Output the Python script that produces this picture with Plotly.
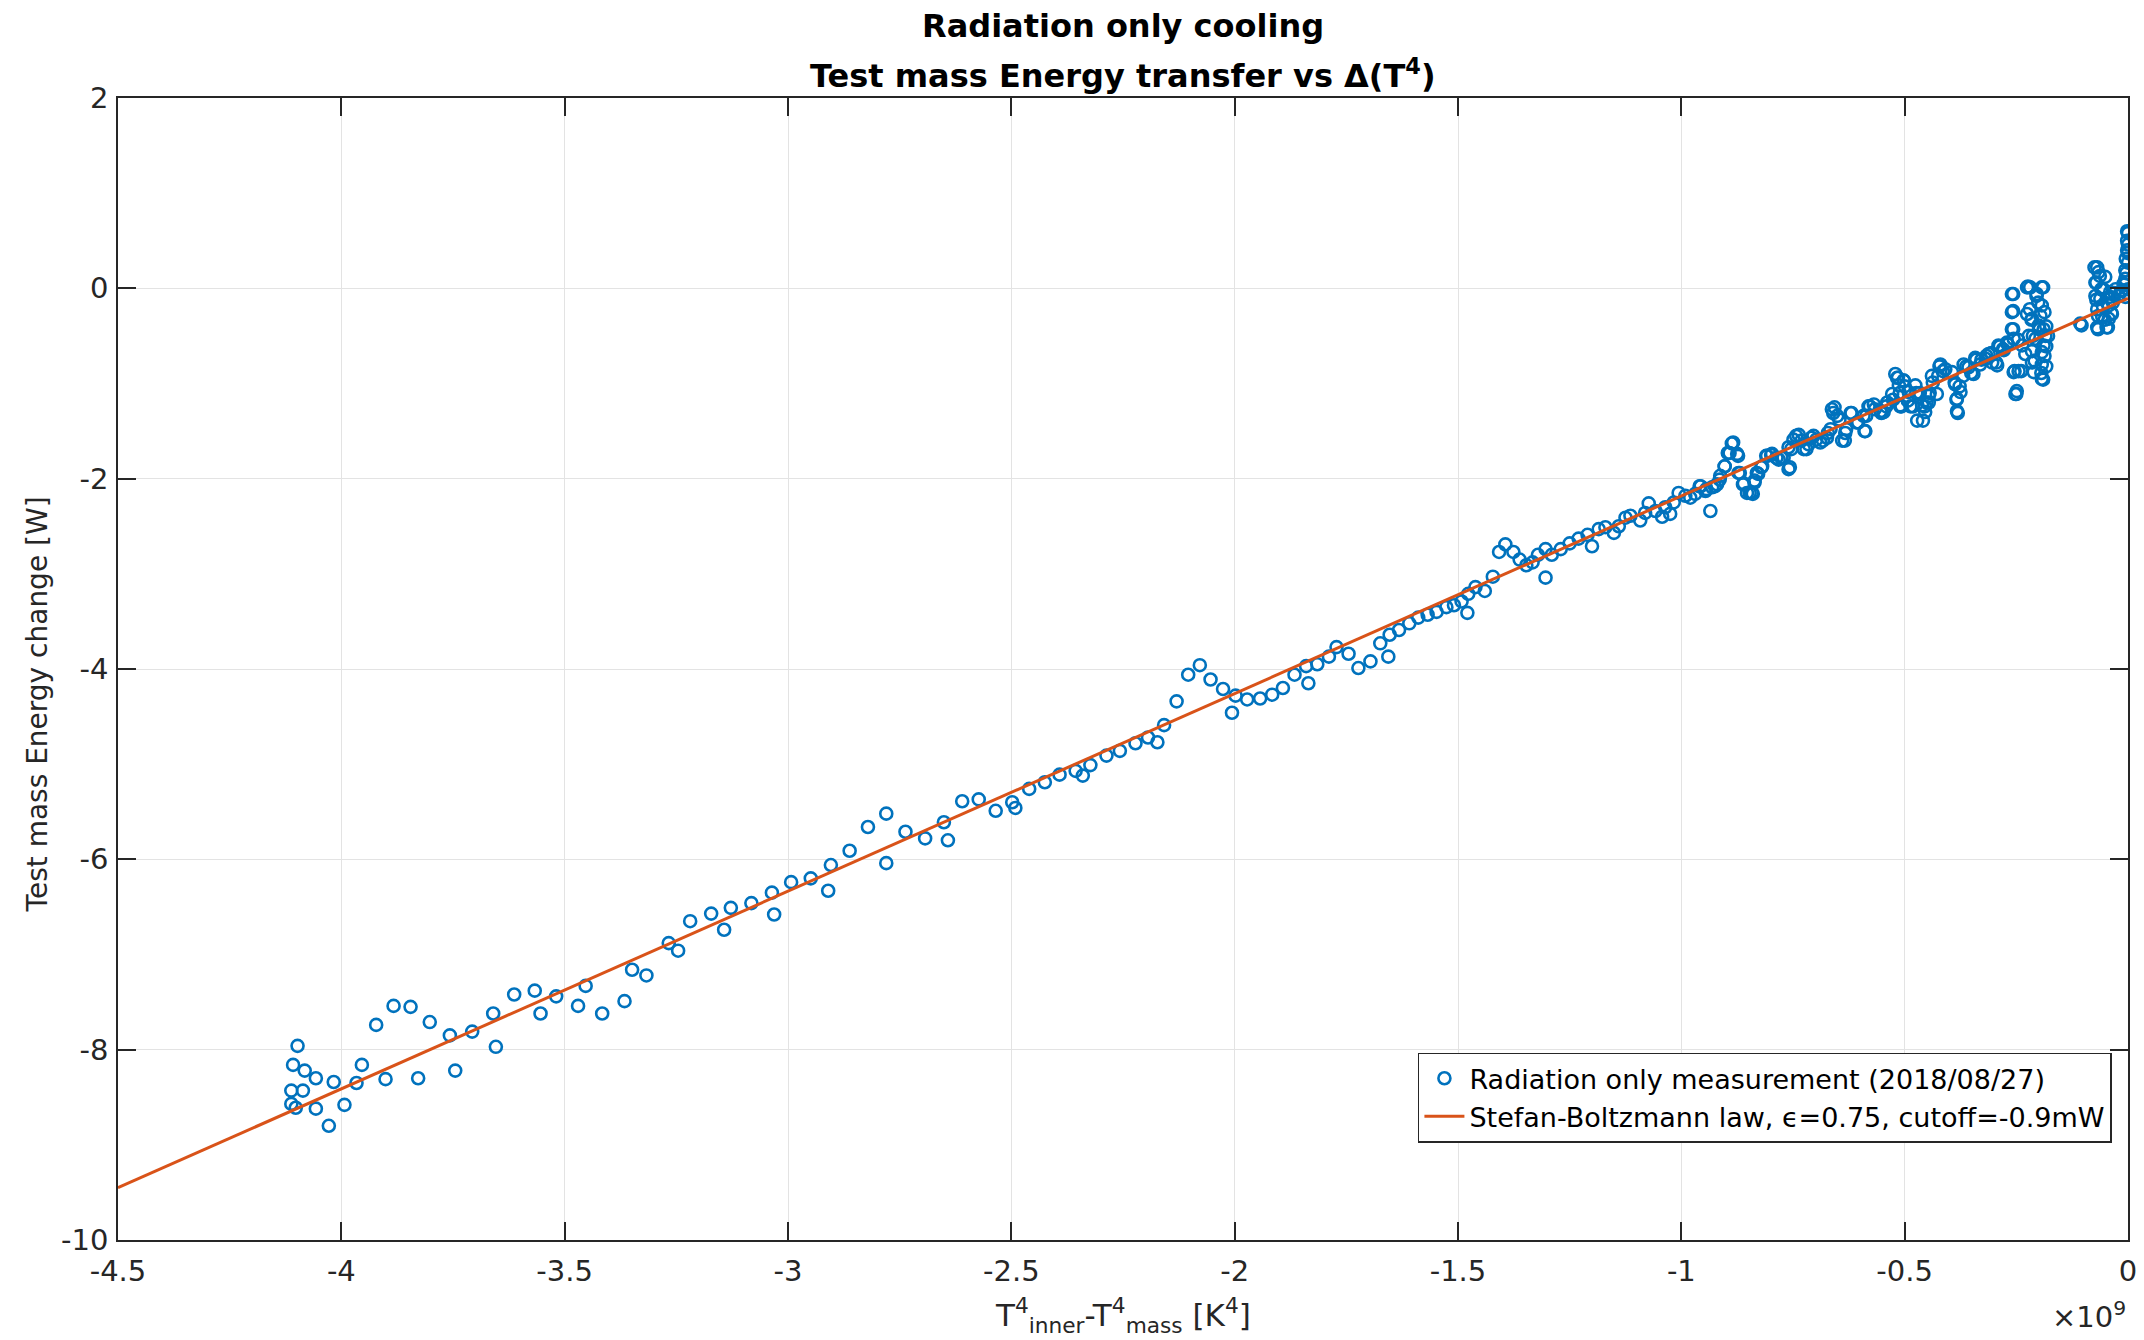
import plotly.graph_objects as go

# x in units of 1e9 K^4, y in W
meas_x = [
    -4.098, -4.108, -4.082, -4.057, -4.112, -4.086, -4.112, -4.102, -4.057, -4.028,
    -4.017, -3.993, -3.966, -3.954, -3.922, -3.883, -3.845, -3.901, -3.828, -3.802,
    -3.757, -3.745, -3.707, -3.660, -3.654, -3.613, -3.567, -3.554, -3.519, -3.470,
    -3.453, -3.416, -3.366, -3.349, -3.317, -3.267, -3.246, -3.219,
    -3.172, -3.143, -3.128, -3.082, -3.036, -3.031, -2.993, -2.949, -2.904, -2.910,
    -2.862, -2.821, -2.780, -2.780, -2.737, -2.693, -2.651, -2.642, -2.610, -2.573,
    -2.535, -2.498, -2.491, -2.460, -2.425, -2.392, -2.356, -2.340, -2.323, -2.287,
    -2.257, -2.222, -2.194,
    -2.173, -2.158, -2.130, -2.104, -2.078, -2.054, -2.026, -1.998, -2.006, -1.972,
    -1.943, -1.916, -1.892, -1.866, -1.840, -1.835, -1.815, -1.789, -1.772, -1.745,
    -1.723, -1.696, -1.674, -1.656, -1.653, -1.632, -1.609, -1.589, -1.568, -1.548,
    -1.526, -1.509, -1.492, -1.479, -1.477, -1.461, -1.440, -1.422, -1.408, -1.394,
    -1.376, -1.362, -1.347, -1.333, -1.321, -1.304, -1.304,
    -1.290, -1.270, -1.250, -1.230, -1.210, -1.200,
    -1.185, -1.170, -1.151, -1.140, -1.125, -1.114, -1.092, -1.081, -1.073, -1.058,
    -1.043, -1.036, -1.025, -1.017, -1.006, -0.991, -0.980, -0.969,
    -0.957, -0.946, -0.935, -0.931, -0.920, -0.913, -0.903, -0.896, -0.887, -0.875,
    -0.872, -0.860, -0.853, -0.842, -0.836, -0.831, -0.819, -0.808, -0.797, -0.782,
    -0.771, -0.760, -0.760, -0.749, -0.737, -0.726, -0.715, -0.704, -0.689, -0.674,
    -0.666, -0.663, -0.651, -0.640, -0.633, -0.621, -0.607, -0.592, -0.588, -0.581,
    -0.569, -0.554, -0.539, -0.528, -0.517, -0.510, -0.502, -0.487, -0.472,
    -0.959, -0.944, -0.925, -0.914, -0.903, -0.892, -0.884, -0.873, -0.869, -0.862,
    -0.847, -0.840, -0.836, -0.828, -0.821, -0.810, -0.799, -0.787, -0.776, -0.757,
    -0.754, -0.743, -0.731, -0.720, -0.709, -0.698, -0.683, -0.672, -0.660, -0.657,
    -0.646, -0.634, -0.631, -0.619, -0.604, -0.590, -0.586, -0.578, -0.567, -0.552,
    -0.541, -0.526, -0.515, -0.511, -0.507, -0.500, -0.493, -0.481, -0.474, -0.466,
    -0.459, -0.455, -0.451, -0.444, -0.437, -0.425, -0.422, -0.414, -0.388, -0.384,
    -0.381, -0.377, -0.369, -0.362, -0.351, -0.340, -0.328, -0.317, -0.306, -0.295,
    -0.287, -0.280, -0.269, -0.257, -0.257, -0.257, -0.254, -0.250, -0.246, -0.239,
    -0.224, -0.220, -0.216, -0.213, -0.209, -0.205, -0.201, -0.198, -0.194, -0.190,
    -0.190, -0.187, -0.187, -0.183, -0.183, -0.179, -0.183, -0.104, -0.075, -0.071,
    -0.071, -0.067, -0.067, -0.063, -0.060, -0.056, -0.052, -0.045, -0.041, -0.037,
    -0.034, -0.030, -0.022, -0.015, -0.007, -0.004, 0.000, 0.000, 0.000, 0.000,
    -0.547, -0.521, -0.513, -0.502, -0.510, -0.491, -0.476, -0.461, -0.446, -0.446,
    -0.454, -0.439, -0.428, -0.420, -0.409, -0.394, -0.387, -0.383, -0.383, -0.375,
    -0.368, -0.357, -0.346, -0.342, -0.331, -0.319, -0.312, -0.304, -0.293, -0.290,
    -0.278, -0.271, -0.260, -0.260, -0.260, -0.256, -0.256, -0.245, -0.252, -0.249,
    -0.237, -0.226, -0.226, -0.222, -0.219, -0.215, -0.215, -0.211, -0.207, -0.204,
    -0.200, -0.196, -0.193, -0.193, -0.193, -0.193, -0.193, -0.189, -0.185, -0.189,
    -0.215, -0.230, -0.107, -0.069, -0.066, -0.073, -0.073, -0.069, -0.069, -0.062,
    -0.058, -0.055, -0.051, -0.048, -0.043, -0.040, -0.036, -0.043, -0.028, -0.021,
    -0.013, -0.010, -0.006, -0.006, -0.005, -0.002, -0.002, -0.002, 0.000, -0.006,
]
meas_y = [
    -7.96, -8.16, -8.22, -8.30, -8.43, -8.43, -8.57, -8.61, -8.62, -8.80,
    -8.34, -8.58, -8.35, -8.16, -7.74, -7.54, -7.55, -8.31, -8.30, -7.71,
    -7.85, -8.22, -7.81, -7.62, -7.97, -7.42, -7.38, -7.62, -7.44, -7.54,
    -7.33, -7.62, -7.49, -7.16, -7.22, -6.88, -6.96, -6.65,
    -6.57, -6.74, -6.51, -6.46, -6.35, -6.58, -6.24, -6.20, -6.06, -6.33,
    -5.91, -5.66, -5.52, -6.04, -5.71, -5.78, -5.61, -5.80, -5.39, -5.37,
    -5.49, -5.40, -5.46, -5.26, -5.19, -5.11, -5.07, -5.12, -5.01, -4.91,
    -4.86, -4.78, -4.72,
    -4.77, -4.59, -4.34, -4.06, -3.96, -4.11, -4.21, -4.28, -4.46, -4.32,
    -4.31, -4.27, -4.20, -4.06, -3.97, -4.15, -3.95, -3.87, -3.77, -3.84,
    -3.99, -3.92, -3.73, -3.87, -3.64, -3.59, -3.52, -3.46, -3.43, -3.40,
    -3.35, -3.33, -3.29, -3.41, -3.21, -3.14, -3.18, -3.03, -2.77, -2.69,
    -2.77, -2.85, -2.91, -2.88, -2.80, -2.74, -3.04,
    -2.80, -2.74, -2.68, -2.63, -2.59, -2.71,
    -2.53, -2.51, -2.57, -2.50, -2.41, -2.39, -2.44, -2.36, -2.26, -2.34,
    -2.40, -2.30, -2.37, -2.25, -2.15, -2.18, -2.20, -2.16,
    -2.08, -2.13, -2.34, -2.09, -2.06, -1.97, -1.87, -1.73, -1.63, -1.74,
    -1.94, -2.05, -2.15, -2.15, -2.02, -1.94, -1.87, -1.76, -1.74, -1.80,
    -1.78, -1.90, -1.67, -1.59, -1.54, -1.69, -1.64, -1.55, -1.62, -1.57,
    -1.48, -1.27, -1.34, -1.60, -1.52, -1.31, -1.41, -1.34, -1.50, -1.24,
    -1.22, -1.29, -1.20, -1.11, -0.94, -1.24, -0.97, -1.24, -1.39,
    -2.08, -2.11, -2.08, -2.01, -1.87, -1.73, -1.62, -1.76, -1.94, -2.06,
    -2.15, -2.16, -2.04, -1.95, -1.88, -1.76, -1.75, -1.78, -1.78, -1.88,
    -1.69, -1.55, -1.60, -1.69, -1.57, -1.59, -1.60, -1.52, -1.31, -1.25,
    -1.38, -1.60, -1.48, -1.31, -1.41, -1.50, -1.34, -1.24, -1.27, -1.31,
    -1.24, -1.17, -0.94, -1.10, -1.24, -1.03, -1.18, -1.24, -1.10, -1.10,
    -1.39, -1.24, -1.20, -1.10, -0.99, -0.92, -0.82, -0.87, -0.99, -1.17,
    -1.31, -1.03, -0.92, -0.82, -0.89, -0.75, -0.75, -0.71, -0.68, -0.78,
    -0.61, -0.64, -0.59, -0.06, -0.24, -0.43, -0.87, -1.11, -0.54, -0.87,
    0.02, -0.22, -0.33, -0.50, -0.76, -0.08, -0.15, -0.43, -0.89, 0.01,
    -0.96, -0.25, -0.71, -0.40, -0.82, -0.50, -0.61, -0.39, 0.22, 0.06,
    -0.12, -0.29, -0.43, 0.13, -0.01, -0.19, -0.33, -0.41, -0.09, -0.26,
    -0.15, -0.05, -0.08, -0.03, 0.04, 0.16, 0.27, 0.37, 0.46, 0.58,
    -1.30, -0.90, -1.02, -0.97, -1.23, -1.09, -1.02, -1.23, -1.20, -1.13,
    -1.30, -0.92, -1.11, -0.80, -0.85, -0.88, -1.01, -1.16, -1.29, -1.09,
    -0.80, -0.83, -0.90, -0.73, -0.80, -0.74, -0.69, -0.78, -0.81, -0.60,
    -0.65, -0.57, -0.06, -0.25, -0.43, -0.53, -0.88, -0.87, -1.11, -1.08,
    -0.60, 0.01, -0.27, -0.50, 0.01, -0.78, -0.32, -0.88, -0.53, -0.06,
    -0.39, -0.29, 0.01, -0.18, -0.67, -0.80, -0.95, -0.43, -0.50, -0.60,
    -0.66, -0.69, -0.37, 0.22, 0.17, 0.06, -0.08, -0.22, -0.41, -0.11,
    -0.29, -0.01, 0.12, -0.41, -0.18, -0.04, -0.27, -0.32, -0.01, -0.08,
    -0.02, 0.05, 0.10, 0.19, 0.31, 0.40, 0.50, 0.60, -0.01, -0.09,
]

# Stefan-Boltzmann model line endpoints
model_x = [-4.5, 0.0]
model_y = [-9.45, -0.105]

x_ticks = [-4.5, -4.0, -3.5, -3.0, -2.5, -2.0, -1.5, -1.0, -0.5, 0.0]
x_ticklabels = ["-4.5", "-4", "-3.5", "-3", "-2.5", "-2", "-1.5", "-1", "-0.5", "0"]
y_ticks = [-10, -8, -6, -4, -2, 0, 2]
y_ticklabels = ["-10", "-8", "-6", "-4", "-2", "0", "2"]

FONT = "DejaVu Sans"
DARK = "#262626"
GRID = "#e3e3e3"

fig = go.Figure()
fig.add_trace(go.Scatter(
    x=meas_x, y=meas_y, mode="markers",
    name="Radiation only measurement (2018/08/27)",
    marker=dict(symbol="circle-open", size=12, color="#0072BD",
                line=dict(width=2.6, color="#0072BD")),
))
fig.add_trace(go.Scatter(
    x=model_x, y=model_y, mode="lines",
    name="Stefan-Boltzmann law, ϵ=0.75, cutoff=-0.9mW",
    line=dict(color="#D95319", width=3),
))

axis_common = dict(
    showgrid=True, gridcolor=GRID, gridwidth=1,
    showline=True, linecolor=DARK, linewidth=1.5, mirror="ticks",
    ticks="inside", ticklen=18, tickwidth=1.5, tickcolor=DARK,
    zeroline=False, automargin=False, ticklabeloverflow="allow",
    tickfont=dict(family=FONT, size=29, color=DARK),
)

fig.update_layout(
    width=2144, height=1340,
    margin=dict(l=118, r=16, t=98, b=100),
    paper_bgcolor="white", plot_bgcolor="white",
    font=dict(family=FONT, color=DARK),
    xaxis=dict(range=[-4.5, 0], tickvals=x_ticks, ticktext=x_ticklabels,
               ticklabelstandoff=4, **axis_common),
    yaxis=dict(range=[-10, 2], tickvals=y_ticks, ticktext=y_ticklabels,
               ticklabelstandoff=2, **axis_common),
    showlegend=True,
    legend=dict(
        x=0.992, y=0.164, xanchor="right", yanchor="top",
        bgcolor="white", bordercolor=DARK, borderwidth=1.5,
        font=dict(family=FONT, size=27, color="black"),
        tracegroupgap=0, itemwidth=40,
    ),
    annotations=[
        dict(text="<b>Radiation only cooling</b>", xref="paper", yref="paper",
             x=0.5, y=1.063, xanchor="center", yanchor="middle", showarrow=False,
             font=dict(family=FONT, size=32, color="black")),
        dict(text="<b>Test mass Energy transfer vs Δ(T<sup>4</sup>)</b>", xref="paper", yref="paper",
             x=0.5, y=1.021, xanchor="center", yanchor="middle", showarrow=False,
             font=dict(family=FONT, size=32, color="black")),
        dict(text="T<sup>4</sup><sub>inner</sub>-T<sup>4</sup><sub>mass</sub> [K<sup>4</sup>]",
             xref="paper", yref="paper", x=0.5, y=-0.066, xanchor="center", yanchor="middle",
             showarrow=False, font=dict(family=FONT, size=31, color=DARK)),
        dict(text="Test mass Energy change [W]", xref="paper", yref="paper",
             x=-0.0403, y=0.469, xanchor="center", yanchor="middle", textangle=-90,
             showarrow=False, font=dict(family=FONT, size=28, color=DARK)),
        dict(text="×10<sup>9</sup>", xref="paper", yref="paper",
             x=1.0, y=-0.066, xanchor="right", yanchor="middle",
             showarrow=False, font=dict(family=FONT, size=29, color=DARK)),
    ],
)

# remove the browser's default page margin so the figure sits at the window origin
fig.write_html("out.html", config={"displayModeBar": False},
               post_script="document.body.style.margin='0';")
